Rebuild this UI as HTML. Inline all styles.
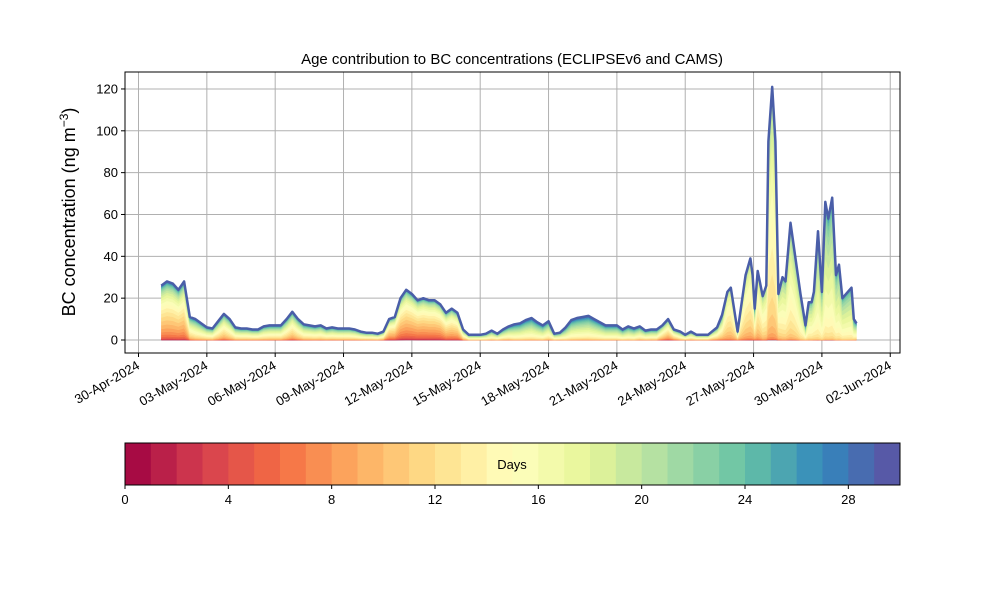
<!DOCTYPE html>
<html><head><meta charset="utf-8"><style>
body{margin:0;background:#fff}
svg{font-family:"Liberation Sans","DejaVu Sans",sans-serif}
</style></head><body>
<svg id="c" width="1000" height="600" viewBox="0 0 1000 600"></svg>
<script>
// total concentration (ng m-3) at times (days after 30-Apr-2024)
const times=[1.0,1.25,1.5,1.75,2.0,2.25,2.5,2.75,3.0,3.25,3.5,3.75,4.0,4.25,4.5,4.75,5.0,5.25,5.5,5.75,6.0,6.25,6.5,6.75,7.0,7.25,7.5,7.75,8.0,8.25,8.5,8.75,9.0,9.25,9.5,9.75,10.0,10.25,10.5,10.75,11.0,11.25,11.5,11.75,12.0,12.25,12.5,12.75,13.0,13.25,13.5,13.75,14.0,14.25,14.5,14.75,15.0,15.25,15.5,15.75,16.0,16.25,16.5,16.75,17.0,17.25,17.5,17.75,18.0,18.25,18.5,18.75,19.0,19.25,19.5,19.75,20.0,20.25,20.5,20.75,21.0,21.25,21.5,21.75,22.0,22.25,22.5,22.75,23.0,23.25,23.5,23.78,24.0,24.25,24.5,24.75,25.0,25.4,25.62,25.85,26.0,26.3,26.65,26.86,26.96,27.05,27.18,27.4,27.56,27.65,27.82,27.96,28.09,28.27,28.4,28.62,28.8,29.06,29.28,29.42,29.55,29.65,29.83,30.0,30.15,30.28,30.45,30.62,30.75,30.9,31.3,31.4,31.52];
const totals=[26,28,27,24,28,11,10,8,6,5.5,9,12.5,10,6,5.5,5.5,5,5,6.5,7,7,7,10,13.5,10,7.5,7,6.5,7,5.5,6,5.5,5.5,5.5,5,4,3.5,3.5,3,4,10,11,20,24,22,19,20,19,19,17,13,15,13,5,2.5,2.5,2.5,3,4.5,3,5,6.5,7.5,8,9.5,10.5,8.5,7,9,3,3.5,6,9.5,10.5,11,11.5,10,8.5,7,7,7,5,6.5,5.5,6.5,4.5,5,5,7,10,5,4,2.5,4,2.5,2.5,2.5,6,12,23,25,4,31,39,31,15,33,21,26,95,121,95,22,30,28,56,42,22,7,18,18,23,52,23,66,58,68,31,36,20,25,10,8,9.5,7];
// mean (modal) age in days of the contribution at each time
const meanAge=[10,10,10,10,10,13,14,14,14,14,13,12,13,14,14,14,14,14,14,14,14,14,13,12,13,14,14,14,14,14,14,14,14,14,14,14,14,14,14,13,10,10,9,9,9,9,9,9,9,9,10,10,10,13,15,15,15,15,15,15,15,15,16,16,16,16,16,16,15,15,15,16,16,16,16,16,16,16,16,16,16,16,16,16,15,15,15,15,12,11,12,14,14,14,14,14,14,13,13,13,13,13,13,13,13,13,13,14,14,14,14,14,14,15,15,15,15,16,16,16,16,16,17,17,17,17,17,17,17,17,17,16,15,13];
const yTicks=[0,20,40,60,80,100,120];
const xTickLabels=["30-Apr-2024","03-May-2024","06-May-2024","09-May-2024","12-May-2024","15-May-2024","18-May-2024","21-May-2024","24-May-2024","27-May-2024","30-May-2024","02-Jun-2024"];
const xTickDays=[0,3,6,9,12,15,18,21,24,27,30,33];
const cbTicks=[0,4,8,12,16,20,24,28];

const NS="http://www.w3.org/2000/svg",svg=document.getElementById('c');
function el(t,a,p){const e=document.createElementNS(NS,t);for(const k in a)e.setAttribute(k,a[k]);(p||svg).appendChild(e);return e;}
const L=125,R=900,T=72,B=353;
const X=d=>138.5+d*22.78, Y=v=>340-v*2.092;
const stops=[[0,[158,1,66]],[.1,[213,62,79]],[.2,[244,109,67]],[.3,[253,174,97]],[.4,[254,224,139]],[.5,[255,255,191]],[.6,[230,245,152]],[.7,[171,221,164]],[.8,[102,194,165]],[.9,[50,136,189]],[1,[94,79,162]]];
function cmap(f){for(let i=1;i<stops.length;i++){if(f<=stops[i][0]){const a=stops[i-1],b=stops[i],u=(f-a[0])/(b[0]-a[0]);return 'rgb('+a[1].map((c,j)=>Math.round(c+(b[1][j]-c)*u)).join(',')+')';}}}
const N=30;const cols=[];for(let k=0;k<N;k++)cols.push(cmap((k+0.5)/N));

el('text',{x:512,y:64,'text-anchor':'middle','font-size':15},svg).textContent="Age contribution to BC concentrations (ECLIPSEv6 and CAMS)";
const g=el('g',{});
xTickDays.forEach(d=>el('line',{x1:X(d),x2:X(d),y1:T,y2:B,stroke:'#b0b0b0','stroke-width':1},g));
yTicks.forEach(v=>el('line',{x1:L,x2:R,y1:Y(v),y2:Y(v),stroke:'#b0b0b0','stroke-width':1},g));
const fr=times.map((t,i)=>{const m=meanAge[i],late=totals[i]>15&&t>25;const sLo=late?3:3.5,sHi=late?4:7.5;let w=[],sum=0;for(let k=0;k<N;k++){let v=k<m?Math.exp(-0.5*((k-m)/sLo)**2):Math.exp(-0.5*((k-m)/sHi)**2)+(late?0.004:0.04);if(k==0)v+=0.012;w.push(v);sum+=v;}return w.map(v=>v/sum);});
const lg=el('g',{});
const cum=times.map(()=>0);
for(let k=0;k<N;k++){
  const lo=cum.slice();
  times.forEach((t,i)=>cum[i]+=totals[i]*fr[i][k]);
  let d='M'+times.map((t,i)=>X(t).toFixed(1)+','+Y(cum[i]).toFixed(1)).join('L');
  for(let i=times.length-1;i>=0;i--)d+='L'+X(times[i]).toFixed(1)+','+Y(lo[i]).toFixed(1);
  const p=el('path',{d:d+'Z',fill:cols[k],stroke:cols[k],'stroke-width':0.4},lg);
  
  
}
el('path',{d:'M'+times.map((t,i)=>X(t).toFixed(1)+','+Y(totals[i]).toFixed(1)).join('L'),fill:'none',stroke:'#4a5ea8','stroke-width':2.5,'stroke-linejoin':'round',});
el('rect',{x:L,y:T,width:R-L,height:B-T,fill:'none',stroke:'#000','stroke-width':1,});
const ya=el('g',{});
yTicks.forEach(v=>{el('line',{x1:L-4,x2:L,y1:Y(v),y2:Y(v),stroke:'#000'},ya);el('text',{x:L-7,y:Y(v)+4.5,'text-anchor':'end','font-size':13},ya).textContent=v;});
const xa=el('g',{});
xTickDays.forEach((d,i)=>{el('line',{x1:X(d),x2:X(d),y1:B,y2:B+4,stroke:'#000'},xa);el('text',{x:X(d)+2,y:B+15,'text-anchor':'end','font-size':13,transform:'rotate(-30 '+(X(d)+2)+' '+(B+15)+')'},xa).textContent=xTickLabels[i];});
el('text',{x:75,y:212,'text-anchor':'middle','font-size':18,transform:'rotate(-90 75 212)',}).innerHTML='BC concentration (ng m<tspan dy="-7" font-size="12">−3</tspan><tspan dy="7">)</tspan>';
const cb=el('g',{});
const cw=(R-L)/N;
cols.forEach((c,k)=>{el('rect',{x:L+k*cw,y:443,width:cw+0.5,height:42,fill:c},cb);});
el('rect',{x:L,y:443,width:R-L,height:42,fill:'none',stroke:'#000'},cb);
el('text',{x:512,y:469,'text-anchor':'middle','font-size':13},cb).textContent='Days';
cbTicks.forEach(v=>{const x=L+v*cw;el('line',{x1:x,x2:x,y1:485,y2:489,stroke:'#000'},cb);el('text',{x:x,y:504,'text-anchor':'middle','font-size':13},cb).textContent=v;});
</script>
</body></html>
